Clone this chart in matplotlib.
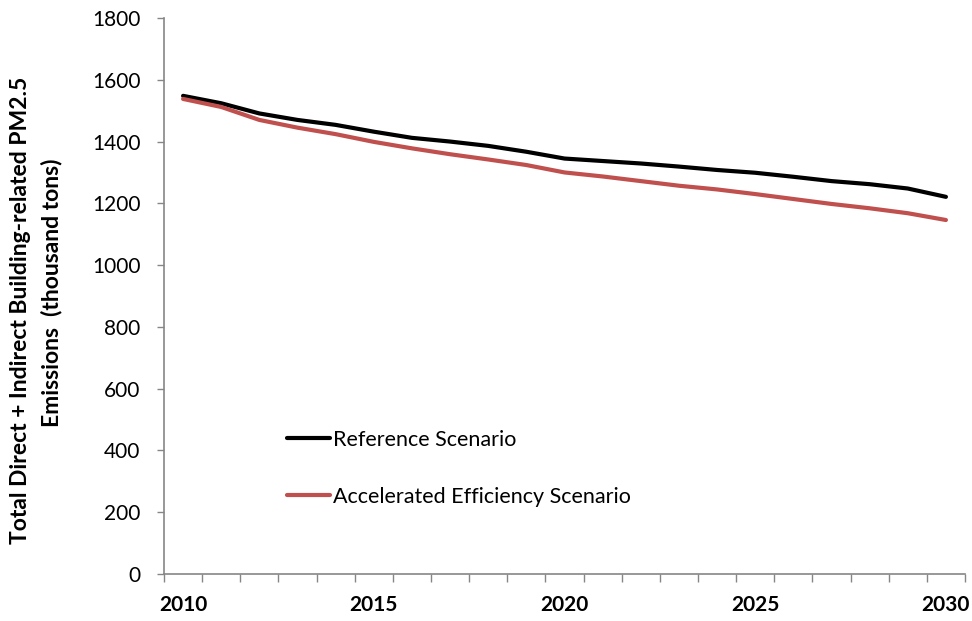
import matplotlib
matplotlib.use('Agg')
import matplotlib.pyplot as plt
from matplotlib.ticker import FixedLocator, NullFormatter

plt.rcParams['font.family'] = ['Lato', 'DejaVu Sans']

years = list(range(2010, 2031))
reference = [1548, 1524, 1491, 1470, 1454, 1432, 1412, 1400, 1386, 1367, 1345,
             1337, 1329, 1319, 1308, 1299, 1286, 1272, 1262, 1248, 1221]
accelerated = [1538, 1512, 1470, 1445, 1424, 1399, 1378, 1359, 1342, 1324, 1300,
               1287, 1272, 1257, 1245, 1230, 1214, 1198, 1184, 1168, 1146]
year_labels = ['2010', '2015', '2020', '2025', '2030']

fig = plt.figure(figsize=(9.72, 6.21), dpi=100)
ax = fig.add_axes([164 / 972, 47 / 621, 801 / 972, 556 / 621])

x = list(range(len(years)))
ax.plot(x, reference, color='black', lw=3.0, label='Reference Scenario', solid_capstyle='round')
ax.plot(x, accelerated, color='#C0504D', lw=3.0, label='Accelerated Efficiency Scenario',
        solid_capstyle='round')

ax.set_xlim(-0.5, len(years) - 0.5)
ax.set_ylim(0, 1800)
ax.set_yticks(range(0, 1801, 200))

# tick marks between categories, labels on every 5th year
ax.xaxis.set_major_locator(FixedLocator([i - 0.5 for i in range(len(years) + 1)]))
ax.xaxis.set_major_formatter(NullFormatter())
ax.xaxis.set_minor_locator(FixedLocator([years.index(int(y)) for y in year_labels]))
ax.set_xticklabels(year_labels, minor=True)
ax.tick_params(axis='x', which='major', length=6, width=1, color='#868686', direction='out')
ax.tick_params(axis='x', which='minor', length=0, pad=15, labelsize=15)
for t in ax.get_xticklabels(minor=True):
    t.set_fontweight('bold')
ax.tick_params(axis='y', length=5, width=1, color='#868686', direction='out', labelsize=15, pad=12)

for side in ['top', 'right']:
    ax.spines[side].set_visible(False)
for side in ['left', 'bottom']:
    ax.spines[side].set_color('#868686')
    ax.spines[side].set_linewidth(1.2)

fig.text(21 / 972, 1 - 310 / 621, 'Total Direct + Indirect Building-related PM2.5',
         rotation=90, ha='center', va='center', fontsize=16.5, fontweight='bold')
fig.text(52 / 972, 1 - 293 / 621, 'Emissions  (thousand tons)',
         rotation=90, ha='center', va='center', fontsize=16.5, fontweight='bold')

ax.legend(loc='upper left', bbox_to_anchor=((287 - 164) / 801, (574 - 430) / 556),
          frameon=False, fontsize=15.5, handlelength=2.0, handletextpad=0.15,
          labelspacing=1.72, borderpad=0, borderaxespad=0)

fig.savefig('out.png', dpi=100)
